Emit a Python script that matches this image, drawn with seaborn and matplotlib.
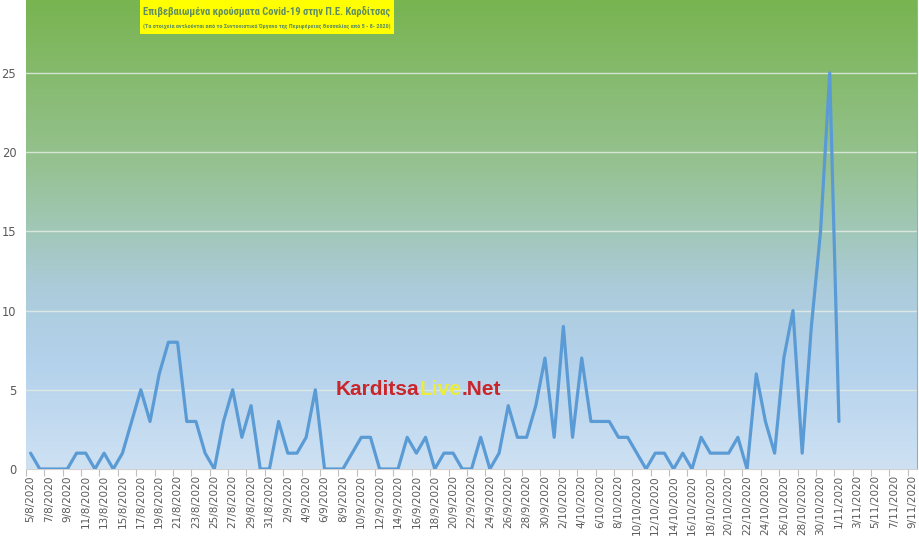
import numpy as np
import pandas as pd
import matplotlib
matplotlib.use("Agg")
import matplotlib.pyplot as plt
from matplotlib.colors import LinearSegmentedColormap
import seaborn as sns

# ---- data ----
start_date = "2020-08-05"
end_date = "2020-11-09"
cases = [1, 0, 0, 0, 0, 1, 1, 0, 1, 0,
         1, 3, 5, 3, 6, 8, 8, 3, 3, 1,
         0, 3, 5, 2, 4, 0, 0, 3, 1, 1,
         2, 5, 0, 0, 0, 1, 2, 2, 0, 0,
         0, 2, 1, 2, 0, 1, 1, 0, 0, 2,
         0, 1, 4, 2, 2, 4, 7, 2, 9, 2,
         7, 3, 3, 3, 2, 2, 1, 0, 1, 1,
         0, 1, 0, 2, 1, 1, 1, 2, 0, 6,
         3, 1, 7, 10, 1, 9, 15, 25, 3]
title = "Επιβεβαιωμένα κρούσματα Covid-19 στην Π.Ε. Καρδίτσας"
subtitle = "(Τα στοιχεία αντλούνται από το Συντονιστικό Όργανο της Περιφέρειας Θεσσαλίας από 5 - 8- 2020)"
yticks = [0, 5, 10, 15, 20, 25]
watermark = ["Karditsa", "Live", ".Net"]

all_dates = pd.date_range(start_date, end_date, freq="D")
tick_labels = [f"{d.day}/{d.month}/{d.year}" for d in all_dates]
df = pd.DataFrame({"day": np.arange(len(cases)), "cases": cases})

sns.set_theme(style="white")
plt.rcParams["font.family"] = ["DejaVu Sans"]

W, H = 919, 538
fig = plt.figure(figsize=(W / 100, H / 100), dpi=100)
ax = fig.add_axes([26 / W, 69 / H, 891 / W, 469 / H])

xmin, xmax = -0.5, len(all_dates) - 0.5
ymin, ymax = 0, 29.6

cmap = LinearSegmentedColormap.from_list("bg", [
    (0.0, (120 / 255, 180 / 255, 80 / 255)),
    (0.35, (150 / 255, 194 / 255, 145 / 255)),
    (0.62, (172 / 255, 204 / 255, 220 / 255)),
    (0.78, (180 / 255, 210 / 255, 236 / 255)),
    (1.0, (206 / 255, 225 / 255, 243 / 255)),
])
grad = np.linspace(0, 1, 256).reshape(-1, 1)
ax.imshow(grad, cmap=cmap, extent=(xmin, xmax, ymin, ymax), aspect="auto",
          origin="upper", zorder=0)

for yv in yticks[1:]:
    ax.axhline(yv, color="#e4ece4", lw=1.0, alpha=0.85, zorder=1)

sns.lineplot(data=df, x="day", y="cases", ax=ax, color="#5b9bd5", lw=2.3,
             zorder=3)

ax.set_xlim(xmin, xmax)
ax.set_ylim(ymin, ymax)
ax.set_xlabel("")
ax.set_ylabel("")

ax.set_yticks(yticks)
ax.set_yticklabels([str(v) for v in yticks], fontsize=8.3, color="#595959")
ax.tick_params(axis="y", length=0, pad=7)

major_pos = np.arange(0, len(all_dates), 2)
ax.set_xticks(major_pos)
ax.set_xticklabels([tick_labels[i] for i in major_pos], rotation=90,
                   fontsize=7.5, color="#595959")
ax.tick_params(axis="x", which="major", length=0, pad=4.5)
ax.set_xticks(major_pos - 0.5, minor=True)
ax.tick_params(axis="x", which="minor", length=5, width=0.8, color="#bfbfbf",
               direction="out", bottom=True)

for s in ["top", "left"]:
    ax.spines[s].set_visible(False)
ax.spines["bottom"].set_color("#d0d0d0")
ax.spines["bottom"].set_linewidth(0.8)
ax.spines["right"].set_color("#8fb0b8")
ax.spines["right"].set_linewidth(0.8)

# title box (yellow) as a small overlay axes
tax = fig.add_axes([140 / W, 1 - 34 / H, 254 / W, 34 / H], zorder=10)
tax.set_facecolor("#ffff00")
tax.set_xticks([])
tax.set_yticks([])
for s in tax.spines.values():
    s.set_visible(False)
tax.text(0.5, 1 - 11 / 34, title, ha="center", va="center",
         fontsize=7.6, fontweight="semibold", color="#5f8f5f",
         family=["Roboto Condensed", "DejaVu Sans"], fontstretch="condensed",
         transform=tax.transAxes)
tax.text(0.5, 1 - 26 / 34, subtitle, ha="center", va="center",
         fontsize=4.4, fontweight="bold", color="#5f8f5f",
         family=["Roboto Condensed", "DejaVu Sans"], fontstretch="condensed",
         transform=tax.transAxes)

# watermark
t1 = ax.text(336 / W, (H - 395) / H, watermark[0], transform=fig.transFigure,
             fontsize=15, fontweight="bold", color="#c9262c",
             family=["Liberation Sans"], va="baseline", ha="left", zorder=6)
t2 = ax.annotate(watermark[1], xy=(1, 0), xycoords=t1, fontsize=15,
                 fontweight="bold", color="#ecec3c", family=["Liberation Sans"],
                 va="bottom", ha="left", zorder=6)
t3 = ax.annotate(watermark[2], xy=(1, 0), xycoords=t2, fontsize=15,
                 fontweight="bold", color="#c9262c", family=["Liberation Sans"],
                 va="bottom", ha="left", zorder=6)

fig.savefig("out.png", dpi=100, facecolor="white")
